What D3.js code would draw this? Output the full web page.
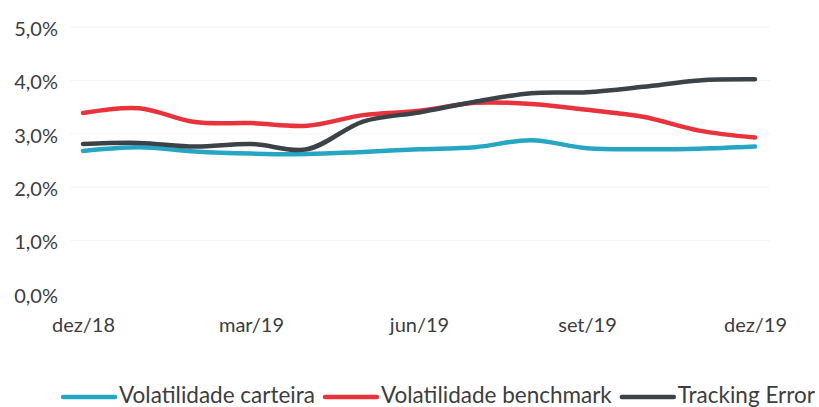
<!DOCTYPE html>
<html>
<head>
<meta charset="utf-8">
<script src="https://cdn.jsdelivr.net/npm/d3@7"></script>
<style>
  html, body { margin: 0; padding: 0; background: #fff; }
  svg { display: block; }
  text { font-family: Lato, "Open Sans", sans-serif; fill: #3d3d3d; }
</style>
</head>
<body>
<svg id="chart" width="819" height="407"></svg>
<script>
const months = ["dez/18","jan/19","fev/19","mar/19","abr/19","mai/19","jun/19","jul/19","ago/19","set/19","out/19","nov/19","dez/19"];
const tickMonths = ["dez/18","mar/19","jun/19","set/19","dez/19"];
const yTicks = [0, 0.01, 0.02, 0.03, 0.04, 0.05];
const volCarteira  = [0.0268,0.0275,0.0267,0.0263,0.0262,0.0266,0.0271,0.0275,0.0288,0.0273,0.0271,0.0272,0.0276];
const volBenchmark = [0.0339,0.0348,0.0322,0.0320,0.0315,0.0335,0.0343,0.0358,0.0356,0.0345,0.0332,0.0306,0.0293];
const trackingError= [0.0281,0.0283,0.0276,0.0281,0.0271,0.0323,0.0340,0.0360,0.0376,0.0378,0.0388,0.0400,0.0402];
const seriesNames = ["Volatilidade carteira","Volatilidade benchmark","Tracking Error"];
const seriesColors = ["#27a6c4","#e8333d","#3b4349"];

const svg = d3.select("#chart");
const x = d3.scalePoint().domain(months).range([83, 755]);
const y = d3.scaleLinear().domain([0, 0.05]).range([294, 27]);
const fmt = v => d3.format(".1f")(v * 100).replace(".", ",") + "%";

// faint gridlines
svg.append("g").selectAll("line").data(yTicks.slice(1)).join("line")
  .attr("x1", 70).attr("x2", 770)
  .attr("y1", d => y(d)).attr("y2", d => y(d))
  .attr("stroke", "#f4f4f4").attr("stroke-width", 1);

// y axis
const yAxis = svg.append("g").attr("transform", "translate(58,1.5)")
  .call(d3.axisLeft(y).tickValues(yTicks).tickSize(0).tickPadding(0).tickFormat(fmt));
yAxis.select(".domain").remove();
yAxis.selectAll("text").style("font-size", "20px").style("font-family", "Lato, sans-serif").attr("fill", "#3d3d3d").attr("dy", "0.34em");

// x axis
const xAxis = svg.append("g").attr("transform", "translate(0,313)")
  .call(d3.axisBottom(x).tickValues(tickMonths).tickSize(0).tickPadding(0));
xAxis.select(".domain").remove();
xAxis.selectAll("text").style("font-size", "20px").style("font-family", "Lato, sans-serif").attr("fill", "#3d3d3d").attr("dy", "0.95em");

// lines
const data = [volCarteira, volBenchmark, trackingError];
const line = d3.line().x((d, i) => x(months[i])).y(d => y(d)).curve(d3.curveCatmullRom.alpha(0.5));
svg.append("g").selectAll("path").data(data).join("path")
  .attr("d", line)
  .attr("fill", "none")
  .attr("stroke", (d, i) => seriesColors[i])
  .attr("stroke-width", 4.5)
  .attr("stroke-linecap", "round")
  .attr("stroke-linejoin", "round");

// legend
const legend = svg.append("g");
const items = legend.selectAll("g").data(seriesNames).join("g");
items.append("line").attr("x1", 2).attr("x2", 54).attr("y1", 2).attr("y2", 2)
  .attr("stroke", (d, i) => seriesColors[i]).attr("stroke-width", 4.5).attr("stroke-linecap", "round");
items.append("text").attr("x", 58).attr("y", 0).attr("dy", "0.35em")
  .style("font-size", "22.5px").text(d => d);
const widths = [];
items.each(function() {
  const w = 58 + d3.select(this).select("text").node().getComputedTextLength();
  widths.push(w);
});
const gap = 8;
const total = d3.sum(widths) + gap * (widths.length - 1);
let start = 438 - total / 2;
items.attr("transform", (d, i) => {
  const tx = start; start += widths[i] + gap;
  return `translate(${tx},395)`;
});
</script>
</body>
</html>
